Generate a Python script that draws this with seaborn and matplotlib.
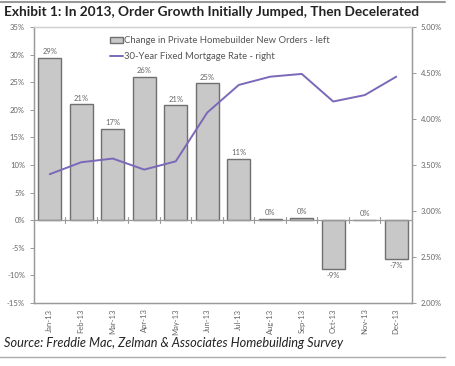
import matplotlib
matplotlib.use("Agg")
import matplotlib.pyplot as plt
import seaborn as sns
import pandas as pd
from matplotlib.lines import Line2D
from matplotlib.patches import Patch

months = ["Jan-13", "Feb-13", "Mar-13", "Apr-13", "May-13", "Jun-13",
          "Jul-13", "Aug-13", "Sep-13", "Oct-13", "Nov-13", "Dec-13"]
orders = [29.4, 21.0, 16.6, 26.0, 20.8, 24.8, 11.1, 0.3, 0.4, -8.8, 0.1, -7.1]
order_labels = ["29%", "21%", "17%", "26%", "21%", "25%", "11%", "0%", "0%", "-9%", "0%", "-7%"]
rate = [3.40, 3.53, 3.57, 3.45, 3.54, 4.07, 4.37, 4.46, 4.49, 4.19, 4.26, 4.46]
left_ticks = [-15, -10, -5, 0, 5, 10, 15, 20, 25, 30, 35]
right_ticks = [2.0, 2.5, 3.0, 3.5, 4.0, 4.5, 5.0]

df = pd.DataFrame({"month": months, "orders": orders, "rate": rate})

sns.set_theme(style="white")
plt.rcParams["font.family"] = ["Lato", "DejaVu Sans"]

txt = "#666666"
spine_c = "#9a9a9a"
bar_fill = "#c8c8c8"
bar_edge = "#707070"
line_c = "#7b68b8"

fig = plt.figure(figsize=(4.56, 3.66), dpi=100)
ax = fig.add_axes([34/456, 1 - 303/366, (412 - 34)/456, (303 - 27)/366])

sns.barplot(data=df, x="month", y="orders", ax=ax, color=bar_fill,
            edgecolor=bar_edge, linewidth=1.0, width=0.73, saturation=1)
ax.set_ylim(-15, 35)
ax.set_xlim(-0.5, 11.5)
ax.set_yticks(left_ticks)
ax.set_yticklabels([f"{t}%" for t in left_ticks])
ax.set_xlabel("")
ax.set_ylabel("")
ax.bar_label(ax.containers[0], labels=order_labels, padding=2, fontsize=5.5, color=txt)
ax.axhline(0, color=spine_c, lw=0.9, zorder=1)
for b in range(1, 12):
    ax.plot([b - 0.5, b - 0.5], [-0.5, 0.5], color=spine_c, lw=0.8, zorder=1)
ax.tick_params(axis="x", rotation=90, labelsize=5.5, colors=txt, length=0, pad=4)
ax.tick_params(axis="y", labelsize=5.5, colors=txt, length=3, width=0.7, left=True, color=spine_c)

ax2 = ax.twinx()
sns.lineplot(data=df, x="month", y="rate", ax=ax2, color=line_c, lw=1.4)
ax2.set_ylim(2.0, 5.0)
ax2.set_yticks(right_ticks)
ax2.set_yticklabels([f"{t:.2f}%" for t in right_ticks])
ax2.set_ylabel("")
ax2.set_xlabel("")
ax2.tick_params(axis="y", labelsize=5.5, colors=txt, length=3, width=0.7, right=True, color=spine_c)

for a in (ax, ax2):
    for s in a.spines.values():
        s.set_color(spine_c)
        s.set_linewidth(0.9)
ax.spines["top"].set_color("#d0d0d0")
ax2.spines["top"].set_color("#d0d0d0")

handles = [Patch(facecolor=bar_fill, edgecolor=bar_edge, linewidth=1.0),
           Line2D([0], [0], color=line_c, lw=1.4)]
ax.legend(handles, ["Change in Private Homebuilder New Orders - left",
                    "30-Year Fixed Mortgage Rate - right"],
          loc="upper left", bbox_to_anchor=(0.19, 0.98), frameon=False,
          fontsize=6.8, labelcolor="#555555", handlelength=1.4, handleheight=0.6,
          handletextpad=0.1, labelspacing=0.75, borderaxespad=0)

fig.text(4/456, 1 - 12/366, "Exhibit 1: In 2013, Order Growth Initially Jumped, Then Decelerated",
         fontsize=9.8, fontweight="bold", color="#222222", va="center", ha="left")
fig.text(4/456, 1 - 343/366, "Source: Freddie Mac, Zelman & Associates Homebuilding Survey",
         fontsize=9.2, style="italic", color="#222222", va="center", ha="left")
fig.add_artist(Line2D([0, 445/456], [1 - 1.5/366, 1 - 1.5/366], color="#999999", lw=1.5))
fig.add_artist(Line2D([0, 445/456], [1 - 357/366, 1 - 357/366], color="#aaaaaa", lw=1.0))

fig.savefig("out.png", dpi=100)
